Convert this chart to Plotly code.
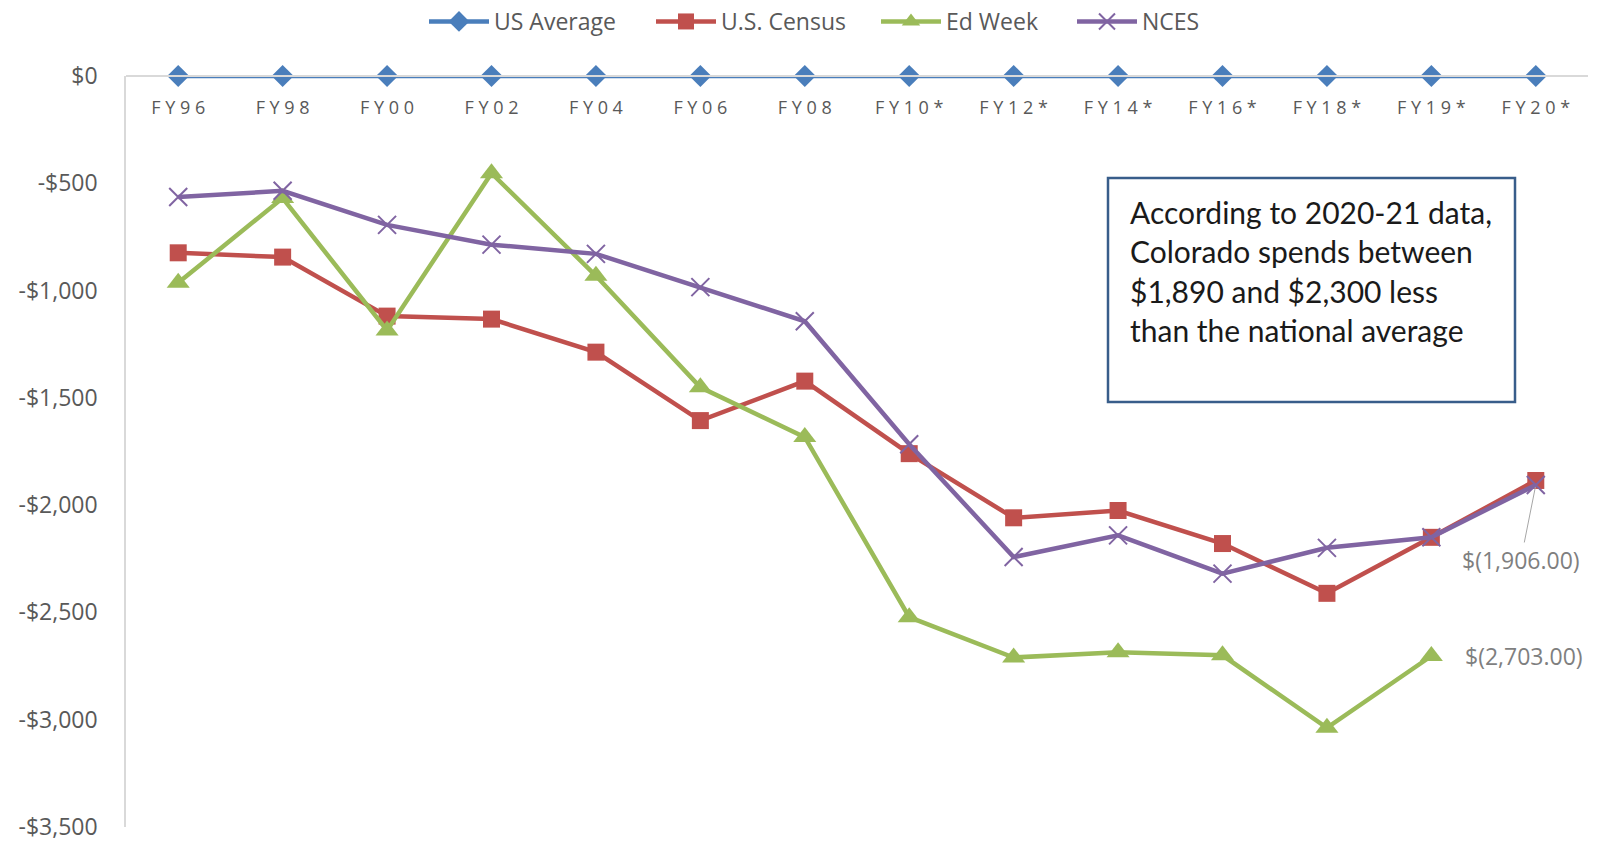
import plotly.graph_objects as go

# Fiscal-year categories
years = ["FY96", "FY98", "FY00", "FY02", "FY04", "FY06", "FY08",
         "FY10*", "FY12*", "FY14*", "FY16*", "FY18*", "FY19*", "FY20*"]

# Colorado per-pupil spending relative to the US average ($)
us_average = [0] * 14
us_census = [-824, -844, -1119, -1133, -1287, -1606, -1422,
             -1760, -2059, -2025, -2179, -2411, -2150, -1885]
ed_week = [-964, -569, -1186, -453, -931, -1451, -1683,
           -2522, -2710, -2686, -2700, -3038, -2703]
nces = [-564, -535, -694, -786, -829, -984, -1143,
        -1716, -2242, -2141, -2319, -2199, -2150, -1906]

y_ticks = [0, -500, -1000, -1500, -2000, -2500, -3000, -3500]

note_lines = ["According to 2020-21 data,",
              "Colorado spends between",
              "$1,890 and $2,300 less",
              "than the national average"]


def money(v):
    return "$0" if v == 0 else f"-${abs(v):,}"


def accounting(v):
    return f"$({abs(v):,.2f})" if v < 0 else f"${v:,.2f}"


def spaced(s):
    return " ".join(s)


grey = "#595959"
fig = go.Figure()

# One legend box per series so the entries can be spaced out evenly
series = [
    ("US Average", us_average, "#4A7EBB", dict(symbol="diamond", size=17), "legend", 424),
    ("U.S. Census", us_census, "#C0504D", dict(symbol="square", size=17), "legend2", 651),
    ("Ed Week", ed_week, "#9BBB59", dict(symbol="triangle-up", size=20), "legend3", 876),
    ("NCES", nces, "#8064A2", dict(symbol="x-thin", size=18,
                                   line=dict(width=2, color="#8064A2")), "legend4", 1072),
]
legend_boxes = {}
for name, vals, color, marker, legend_id, left_px in series:
    fig.add_trace(go.Scatter(
        x=years[:len(vals)], y=vals, name=name, mode="lines+markers",
        line=dict(color=color, width=4.5),
        marker=dict(color=color, **marker),
        cliponaxis=False, legend=legend_id,
    ))
    legend_boxes[legend_id] = dict(
        orientation="h", xref="container", yref="container",
        x=left_px / 1621, xanchor="left", y=1.0, yanchor="top",
        font=dict(size=23, color=grey, family="Open Sans"),
        itemwidth=60, bgcolor="rgba(0,0,0,0)")

fig.update_layout(
    width=1621, height=860,
    margin=dict(l=126, r=33, t=76, b=33),
    plot_bgcolor="white", paper_bgcolor="white",
    font=dict(family="Open Sans", color=grey),
    showlegend=True,
    **legend_boxes,
    xaxis=dict(type="category", categoryorder="array", categoryarray=years,
               range=[-0.5, 13.5], anchor="free", position=1, side="bottom",
               tickmode="array", tickvals=years,
               ticktext=[spaced(y) for y in years],
               tickfont=dict(size=18, color=grey, family="Open Sans"),
               showline=True, linecolor="#D9D9D9", linewidth=1.5,
               showgrid=False, zeroline=False, ticks="", ticklabelstandoff=16),
    yaxis=dict(range=[-3500, 0], tickmode="array", tickvals=y_ticks,
               ticktext=[money(v) for v in y_ticks],
               tickfont=dict(size=23, color=grey, family="Open Sans"),
               showline=True, linecolor="#D9D9D9", linewidth=1.5,
               showgrid=False, zeroline=False, ticks="", ticklabelstandoff=22),
)

# Data labels on the latest NCES and Ed Week points
fig.add_annotation(x=years[len(nces) - 1], y=nces[-1], text=accounting(nces[-1]),
                   showarrow=True, arrowhead=0, arrowwidth=1, arrowcolor="#A6A6A6",
                   ax=-15, ay=75, standoff=2,
                   font=dict(size=23, color="#7F7F7F", family="Open Sans"))
fig.add_annotation(x=years[len(ed_week) - 1], y=ed_week[-1], text=accounting(ed_week[-1]),
                   showarrow=False, xanchor="left", xshift=32,
                   font=dict(size=23, color="#7F7F7F", family="Open Sans"))

# Callout box
fig.add_shape(type="rect", xref="paper", yref="paper",
              x0=(1108 - 126) / 1462, x1=(1515 - 126) / 1462,
              y0=1 - (402 - 76) / 751, y1=1 - (178 - 76) / 751,
              line=dict(color="#385D8A", width=2.5), fillcolor="white", layer="above")
for i, line in enumerate(note_lines):
    fig.add_annotation(xref="paper", yref="paper",
                       x=(1128 - 126) / 1462, y=1 - (212 + 39.5 * i - 76) / 751,
                       text=line, showarrow=False, xanchor="left", yanchor="middle",
                       font=dict(size=30, color="#1A1A1A", family="Lato"))

fig.write_html("out.html")
